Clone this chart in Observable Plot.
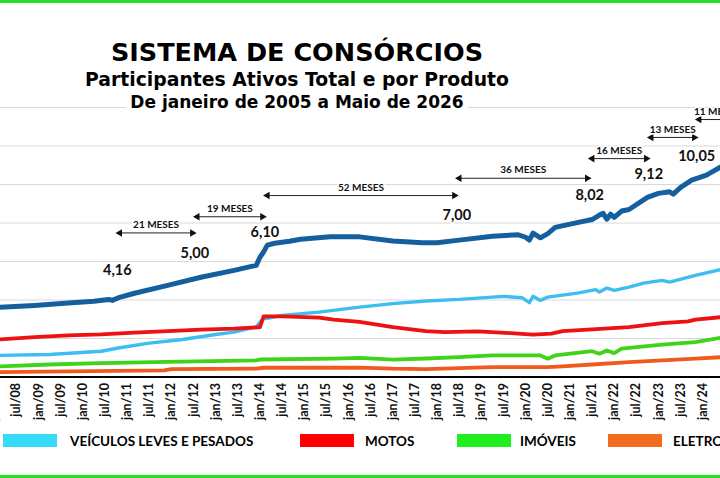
<!DOCTYPE html>
<html lang="pt-BR">
<head>
<meta charset="utf-8">
<script src="https://cdn.jsdelivr.net/npm/d3@7"></script>
<script src="https://cdn.jsdelivr.net/npm/@observablehq/plot@0.6"></script>
<style>
  body { margin: 0; background: #fff; }
  #wrap { position: relative; width: 720px; height: 478px; overflow: hidden; background: #fff; }
  #chart { position: absolute; left: 0; top: 0; }
  .borda { position: absolute; left: 0; width: 720px; height: 3px; background: #22e022; }
  .titulo { position: absolute; left: 0; width: 594px; text-align: center; font-family: "DejaVu Sans", sans-serif; font-weight: bold; color: #000; white-space: nowrap; }
  #t1 { top: 40px; font-size: 25.5px; line-height: 25px; }
  #t2 { top: 70px; font-size: 18.8px; line-height: 19px; }
  #t3 { top: 93px; font-size: 17px; line-height: 18px; }
  #t3 span { background: #fff; padding: 0 4px; }
  .sw { position: absolute; top: 434px; height: 13px; width: 54px; }
  .lg { position: absolute; top: 434px; font-family: Lato, sans-serif; font-weight: bold; font-size: 13.5px; line-height: 14px; color: #000; white-space: nowrap; }
</style>
</head>
<body>
<div id="wrap">
  <div id="chart"></div>
  <div class="borda" style="top:0"></div>
  <div class="borda" style="top:475px"></div>
  <div class="titulo" id="t1">SISTEMA DE CONSÓRCIOS</div>
  <div class="titulo" id="t2">Participantes Ativos Total e por Produto</div>
  <div class="titulo" id="t3"><span>De janeiro de 2005 a Maio de 2026</span></div>
  <div id="legend"></div>
</div>
<script>
// Participantes ativos (milhões), mês a mês ("AAAA-MM", valor)
const total = [
  ["2008-02",3.62],["2008-12",3.72],["2009-09",3.84],["2010-04",3.93],["2010-08",4.03],["2010-09",3.98],
  ["2010-11",4.14],["2011-03",4.35],["2011-12",4.76],["2012-09",5.18],["2013-06",5.54],["2013-11",5.76],
  ["2013-12",5.80],["2014-01",6.22],["2014-02",6.50],["2014-03",6.85],["2014-05",6.95],["2014-09",7.05],
  ["2014-12",7.16],["2015-08",7.28],["2016-01",7.29],["2016-04",7.28],["2017-01",7.07],["2017-09",6.97],
  ["2018-01",6.97],["2018-07",7.11],["2019-04",7.31],["2019-11",7.39],["2020-01",7.26],["2020-02",7.11],
  ["2020-03",7.47],["2020-05",7.23],["2020-07",7.45],["2020-09",7.77],["2021-02",7.98],["2021-07",8.18],
  ["2021-09",8.41],["2021-10",8.50],["2021-11",8.20],["2021-12",8.46],["2022-01",8.29],["2022-03",8.62],
  ["2022-05",8.70],["2022-10",9.33],["2023-01",9.54],["2023-04",9.62],["2023-05",9.50],["2023-07",9.85],
  ["2023-10",10.23],["2024-02",10.49],["2024-04",10.71],["2024-06",10.92]
];
const veiculos = [
  ["2008-02",1.12],["2009-04",1.17],["2010-06",1.34],["2010-11",1.52],["2011-07",1.76],["2012-04",1.95],
  ["2013-01",2.21],["2013-06",2.33],["2013-10",2.51],["2013-12",2.59],["2014-01",2.84],["2014-02",3.03],
  ["2014-03",3.05],["2014-07",3.20],["2015-05",3.37],["2016-04",3.63],["2017-01",3.81],["2017-10",3.95],
  ["2018-07",4.03],["2019-07",4.19],["2019-12",4.12],["2020-02",3.86],["2020-03",4.19],["2020-05",3.98],
  ["2020-07",4.15],["2021-03",4.36],["2021-08",4.54],["2021-09",4.41],["2021-11",4.62],["2022-01",4.50],
  ["2022-05",4.67],["2022-09",4.88],["2023-02",5.02],["2023-04",4.93],["2023-11",5.28],["2024-06",5.58]
];
const motos = [
  ["2008-02",1.95],["2008-12",2.07],["2009-09",2.16],["2010-06",2.21],["2011-03",2.30],["2011-12",2.38],
  ["2012-09",2.46],["2013-06",2.51],["2014-01",2.59],["2014-02",3.15],["2014-07",3.15],["2015-05",3.08],
  ["2015-09",2.98],["2016-04",2.86],["2017-01",2.59],["2017-10",2.38],["2018-03",2.33],["2018-12",2.37],
  ["2019-09",2.28],["2020-03",2.20],["2020-08",2.25],["2020-11",2.38],["2021-07",2.47],["2022-05",2.59],
  ["2023-02",2.80],["2023-09",2.89],["2023-11",2.98],["2024-06",3.11]
];
const imoveis = [
  ["2008-02",0.55],["2009-04",0.65],["2010-06",0.72],["2011-12",0.79],["2013-12",0.86],["2014-01",0.91],
  ["2015-09",0.95],["2016-04",0.99],["2017-01",0.90],["2017-10",0.96],["2018-07",1.03],["2019-04",1.12],
  ["2020-05",1.12],["2020-07",0.95],["2020-09",1.12],["2021-07",1.34],["2021-09",1.21],["2021-11",1.38],
  ["2022-01",1.24],["2022-03",1.47],["2023-02",1.68],["2023-11",1.81],["2024-06",2.04]
];
const eletro = [
  ["2008-02",0.25],["2009-09",0.29],["2011-11",0.34],["2012-01",0.41],["2013-12",0.44],["2014-02",0.48],
  ["2015-09",0.48],["2016-04",0.49],["2017-01",0.43],["2017-10",0.41],["2018-07",0.46],["2019-04",0.51],
  ["2020-07",0.51],["2020-11",0.55],["2021-07",0.65],["2022-05",0.77],["2023-02",0.86],["2023-11",0.95],
  ["2024-06",1.03]
];

// Marcos do total (milhões) e o mês em que foram atingidos
const marcos = [
  ["2010-09",4.16],["2012-06",5.00],["2014-01",6.10],["2018-05",7.00],
  ["2021-05",8.02],["2022-09",9.12],["2023-10",10.05]
];
const proximoMarco = "2024-09";

// Rótulos do eixo x: semestrais
const ticksInicio = "2008-01", ticksFim = "2024-01";

const legendaItens = ["VEÍCULOS LEVES E PESADOS", "MOTOS", "IMÓVEIS", "ELETROELETRÔNICOS"];
const legendaCores = ["#36dcf7", "#ff0000", "#1fef1f", "#f46a1f"];

// ---------------------------------------------------------------
const mesIdx = s => { const [a, m] = s.split("-").map(Number); return (a - 2005) * 12 + (m - 1); };
const linhas = (pares) => pares.map(([m, v]) => ({mes: mesIdx(m), v}));
const mesesAbrev = ["jan","fev","mar","abr","mai","jun","jul","ago","set","out","nov","dez"];
const fmtMes = i => `${mesesAbrev[i % 12]}/${String(5 + Math.floor(i / 12)).padStart(2, "0")}`;
const ticks = d3.range(mesIdx(ticksInicio), mesIdx(ticksFim) + 1, 6);

const pontosMarcos = marcos.map(([m, v]) => ({mes: mesIdx(m), v}));
const intervalos = pontosMarcos.map((p, k) => {
  const fim = k + 1 < pontosMarcos.length ? pontosMarcos[k + 1].mes : mesIdx(proximoMarco);
  return {ini: p.mes, fim, v: p.v, meio: (p.mes + fim) / 2, texto: `${fim - p.mes} MESES`};
});
const fmtValor = v => v.toFixed(2).replace(".", ",");

const seriesCfg = [
  {dados: eletro,   cor: "#f05a1e", largura: 3.8},
  {dados: imoveis,  cor: "#3fd41a", largura: 3.8},
  {dados: veiculos, cor: "#3dbdf0", largura: 3.4},
  {dados: motos,    cor: "#ee1111", largura: 3.8},
  {dados: total,    cor: "#155f9f", largura: 5}
];

const ARROW_DY = -64;

const chart = Plot.plot({
  width: 720,
  height: 478,
  marginLeft: 0,
  marginRight: 0,
  marginTop: 107,
  marginBottom: 101.5,
  x: {domain: [37.7, 232.8], axis: null},
  y: {domain: [0, 14], axis: null},
  style: {background: "transparent", fontFamily: "Lato, sans-serif", overflow: "hidden"},
  marks: [
    Plot.ruleY(d3.range(2, 15, 2), {stroke: "#d9d9d9", strokeWidth: 1}),
    Plot.axisX(ticks, {
      tickSize: 0, tickPadding: 6, tickRotate: -90, tickFormat: fmtMes,
      fontSize: 12.5, fontWeight: "bold", fill: "#111", label: null
    }),
    ...seriesCfg.map(s => Plot.line(linhas(s.dados), {
      x: "mes", y: "v", stroke: s.cor, strokeWidth: s.largura,
      strokeLinejoin: "round", strokeLinecap: "round"
    })),
    Plot.ruleY([0], {stroke: "#000", strokeWidth: 2}),
    // setas entre marcos
    Plot.link(intervalos, {
      x1: "ini", x2: "fim", y1: "v", y2: "v", dx: 5, dy: ARROW_DY,
      stroke: "#222", strokeWidth: 1
    }),
    Plot.dot(intervalos, {x: "ini", y: "v", dx: 7.5, dy: ARROW_DY, symbol: "triangle", r: 2.8, rotate: -90, fill: "#111"}),
    Plot.dot(intervalos, {x: "fim", y: "v", dx: 2.5, dy: ARROW_DY, symbol: "triangle", r: 2.8, rotate: 90, fill: "#111"}),
    Plot.text(intervalos, {
      x: "meio", y: "v", dx: 5, dy: ARROW_DY - 8, text: "texto",
      fontSize: 10, fontWeight: "bold", fill: "#111",
      stroke: "#fff", strokeWidth: 3, paintOrder: "stroke"
    }),
    // valores dos marcos
    Plot.text(pontosMarcos, {
      x: "mes", y: "v", dx: 5, dy: -27, text: d => fmtValor(d.v),
      fontSize: 14.5, fontWeight: "bold", fill: "#111",
      stroke: "#fff", strokeWidth: 3, paintOrder: "stroke"
    })
  ]
});
document.getElementById("chart").append(chart);

// Legenda
const posLegenda = [[3, 70], [300, 365], [457, 520], [608, 673]];
const leg = document.getElementById("legend");
legendaItens.forEach((nome, k) => {
  const sw = document.createElement("div");
  sw.className = "sw";
  sw.style.left = posLegenda[k][0] + "px";
  sw.style.background = legendaCores[k];
  const tx = document.createElement("div");
  tx.className = "lg";
  tx.style.left = posLegenda[k][1] + "px";
  tx.textContent = nome;
  leg.append(sw, tx);
});
</script>
</body>
</html>
